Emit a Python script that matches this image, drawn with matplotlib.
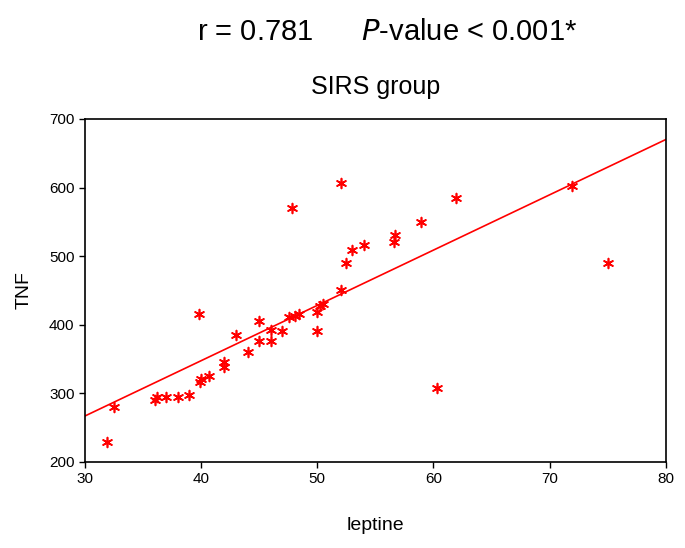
import matplotlib.pyplot as plt

# leptine vs TNF, SIRS group
leptine = [31.9, 32.5, 36.0, 36.2, 37.0, 38.0, 39.0, 39.8, 39.9, 40.0, 40.7,
           42.0, 42.0, 43.0, 44.0, 45.0, 45.0, 46.0, 46.0, 47.0, 47.8, 47.6,
           48.1, 48.4, 50.0, 50.0, 50.2, 50.5, 52.0, 52.0, 52.5, 53.0, 54.0,
           56.7, 56.6, 58.9, 61.9, 71.9, 75.0, 60.3]
tnf = [229, 280, 291, 294, 295, 295, 297, 415, 316, 321, 325,
       346, 339, 385, 361, 406, 377, 392, 377, 391, 570, 412,
       413, 415, 419, 391, 428, 430, 606, 450, 490, 509, 516,
       531, 520, 550, 585, 602, 490, 308]

# regression line end points
fit_x = [30, 80]
fit_y = [267, 670]

plt.rcParams['font.family'] = ['Liberation Sans', 'DejaVu Sans']

fig = plt.figure(figsize=(6.85, 5.48), dpi=100)
ax = fig.add_axes([0.124, 0.157, 0.848, 0.626])

ax.plot(fit_x, fit_y, color='#ff0000', lw=1.2)
ax.scatter(leptine, tnf, marker=(6, 2, 0), s=50, color='#ff0000', linewidths=1.2)

ax.set_xlim(30, 80)
ax.set_ylim(200, 700)
ax.set_xticks([30, 40, 50, 60, 70, 80])
ax.set_yticks([200, 300, 400, 500, 600, 700])
ax.tick_params(labelsize=11, length=4, width=1)
for s in ax.spines.values():
    s.set_linewidth(1.2)

ax.set_xlabel('leptine', fontsize=14, labelpad=22)
ax.set_ylabel('TNF', fontsize=14, labelpad=12)
ax.set_title('SIRS group', fontsize=18, pad=18)

fig.text(0.565, 0.942, r'r = 0.781      $\it{P}$-value < 0.001*', fontsize=21,
         ha='center', va='center')

fig.savefig('out.png', dpi=100)
